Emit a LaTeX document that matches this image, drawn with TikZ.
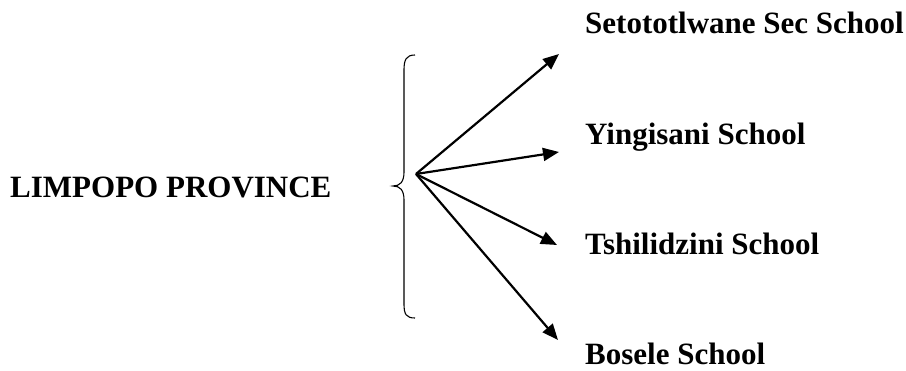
\documentclass[tikz,border=0pt]{standalone}
\usepackage{fontspec}
\setmainfont{Liberation Serif}
\usetikzlibrary{arrows.meta}
\tikzset{
  lbl/.style={anchor=base west, inner sep=0pt, font=\bfseries\fontsize{31}{36}\selectfont},
  arr/.style={line width=2.2pt, -{Triangle[length=16pt,width=13pt]}},
  brace/.style={line width=1.1pt}
}
\begin{document}
\begin{tikzpicture}[x=1pt,y=-1pt]
\useasboundingbox (0,0) rectangle (906,371);
\node[lbl] (prov) at (10,198) {LIMPOPO PROVINCE};
\node[lbl] (s1) at (585,34) {Setototlwane Sec School};
\node[lbl] (s2) at (585,145) {Yingisani School};
\node[lbl] (s3) at (585,255) {Tshilidzini School};
\node[lbl] (s4) at (585,365) {Bosele School};
\coordinate (o) at (416,174);
\coordinate (t1) at (559,54);
\coordinate (t2) at (559,152);
\coordinate (t3) at (557,245);
\coordinate (t4) at (558,340);
\draw[brace] (415,55) .. controls (406,55) and (404,60) .. (404,70) -- (404,172)
  .. controls (404,182) and (400,186) .. (393,186)
  .. controls (400,186) and (404,190) .. (404,200) -- (404,304)
  .. controls (404,314) and (406,318) .. (415,318);
\draw[arr] (o) -- (t1);
\draw[arr] (o) -- (t2);
\draw[arr] (o) -- (t3);
\draw[arr] (o) -- (t4);
\end{tikzpicture}
\end{document}
